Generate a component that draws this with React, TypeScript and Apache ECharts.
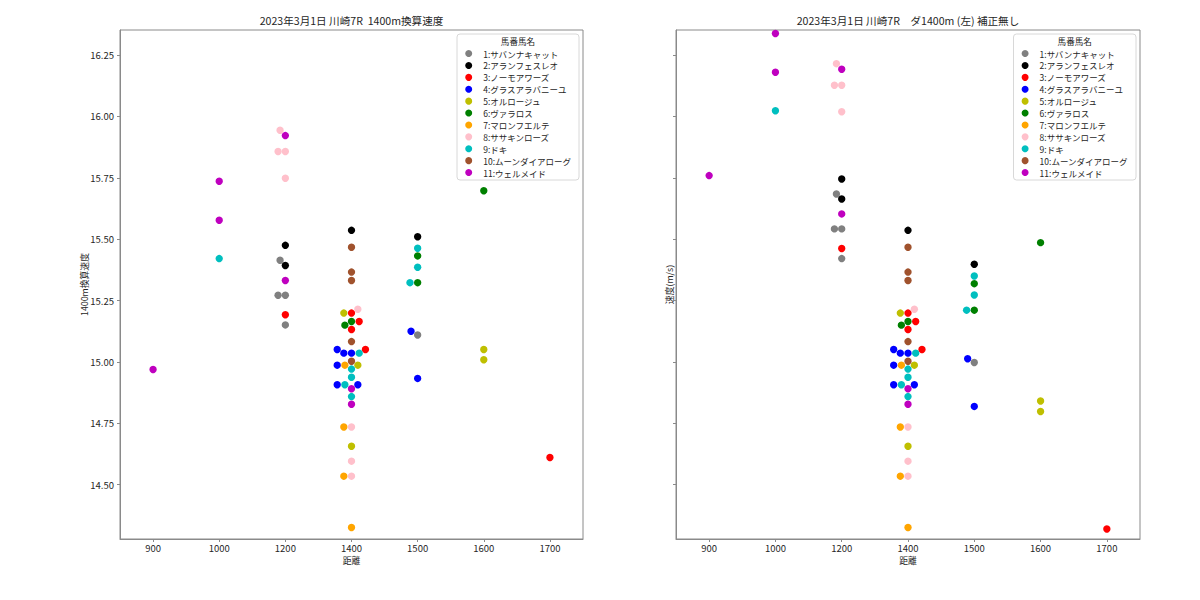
import { useEffect, useRef } from "react";
import * as echarts from "echarts";

const FONT = '"Noto Sans CJK JP", "Noto Sans", "DejaVu Sans", sans-serif';

const distances = [900, 1000, 1200, 1400, 1500, 1600, 1700];
const yTicks = [14.5, 14.75, 15.0, 15.25, 15.5, 15.75, 16.0, 16.25];

const horseNames = [
  "1:サバンナキャット",
  "2:アランフェスレオ",
  "3:ノーモアワーズ",
  "4:グラスアラバニーユ",
  "5:オルロージュ",
  "6:ヴァラロス",
  "7:マロンフエルテ",
  "8:ササキンローズ",
  "9:ドキ",
  "10:ムーンダイアローグ",
  "11:ウェルメイド",
];

const horseColors = [
  "#808080", "#000000", "#ff0000", "#0000ff", "#bfbf00", "#008000",
  "#ffa500", "#ffc0cb", "#00bfbf", "#a0522d", "#bf00bf",
];

// [distance, swarm offset (category units), 1400m-converted speed, raw speed]
const horse1 = [
  [1200, -0.08, 15.414, 15.684],
  [1200, -0.11, 15.272, 15.542],
  [1200, 0, 15.272, 15.542],
  [1200, 0, 15.151, 15.421],
  [1500, 0, 15.11, 14.998],
];
const horse2 = [
  [1200, 0, 15.475, 15.745],
  [1200, 0, 15.393, 15.664],
  [1400, 0, 15.536, 15.536],
  [1500, 0, 15.51, 15.398],
];
const horse3 = [
  [1200, 0, 15.192, 15.462],
  [1400, 0, 15.199, 15.199],
  [1400, 0.116, 15.165, 15.165],
  [1400, 0, 15.132, 15.132],
  [1400, 0.211, 15.051, 15.051],
  [1700, 0, 14.611, 14.32],
];
const horse4 = [
  [1400, -0.216, 15.051, 15.051],
  [1400, -0.116, 15.036, 15.036],
  [1400, 0, 15.036, 15.036],
  [1400, -0.216, 14.987, 14.987],
  [1400, -0.216, 14.907, 14.907],
  [1400, 0.096, 14.907, 14.907],
  [1500, -0.1, 15.125, 15.013],
  [1500, 0, 14.933, 14.819],
];
const horse5 = [
  [1400, -0.116, 15.199, 15.199],
  [1400, 0.096, 14.987, 14.987],
  [1400, 0, 14.657, 14.657],
  [1600, 0, 15.051, 14.841],
  [1600, 0, 15.009, 14.798],
];
const horse6 = [
  [1400, 0, 15.165, 15.165],
  [1400, -0.1, 15.15, 15.15],
  [1500, 0, 15.432, 15.319],
  [1500, 0, 15.323, 15.211],
  [1600, 0, 15.697, 15.486],
];
const horse7 = [
  [1400, -0.1, 14.987, 14.987],
  [1400, -0.116, 14.735, 14.735],
  [1400, -0.116, 14.535, 14.535],
  [1400, 0, 14.326, 14.326],
];
const horse8 = [
  [1200, -0.08, 15.944, 16.215],
  [1200, -0.11, 15.857, 16.127],
  [1200, 0, 15.857, 16.127],
  [1200, 0, 15.748, 16.019],
  [1400, 0.096, 15.215, 15.215],
  [1400, 0, 14.735, 14.735],
  [1400, 0, 14.596, 14.596],
  [1400, 0, 14.535, 14.535],
];
const horse9 = [
  [1000, 0, 15.421, 16.023],
  [1400, 0.116, 15.036, 15.036],
  [1400, 0, 14.971, 14.971],
  [1400, 0, 14.938, 14.938],
  [1400, -0.1, 14.907, 14.907],
  [1400, 0, 14.859, 14.859],
  [1500, 0, 15.463, 15.35],
  [1500, 0, 15.386, 15.273],
  [1500, -0.116, 15.323, 15.211],
];
const horse10 = [
  [1400, 0, 15.467, 15.467],
  [1400, 0, 15.366, 15.366],
  [1400, 0, 15.332, 15.332],
  [1400, 0, 15.083, 15.083],
  [1400, 0, 15.003, 15.003],
];
const horse11 = [
  [900, 0, 14.969, 15.759],
  [1000, 0, 15.736, 16.338],
  [1000, 0, 15.577, 16.18],
  [1200, 0, 15.922, 16.192],
  [1200, 0, 15.332, 15.603],
  [1400, 0, 14.891, 14.891],
  [1400, 0, 14.828, 14.828],
];

const horseData = [
  horse1, horse2, horse3, horse4, horse5, horse6,
  horse7, horse8, horse9, horse10, horse11,
];

const titles = [
  "2023年3月1日 川崎7R  1400m換算速度",
  "2023年3月1日 川崎7R　ダ1400m (左) 補正無し",
];
const yNames = ["1400m換算速度", "速度(m/s)"];
const xName = "距離";
const legendTitle = "馬番馬名";

const AXIS_COLOR = "#8a8a8a";
const TEXT_COLOR = "#262626";

export default function App() {
  const ref = useRef<HTMLDivElement>(null);

  useEffect(() => {
    if (!ref.current) return;
    const chart = echarts.init(ref.current, null, { renderer: "svg" });

    const grids = [
      { left: 120, top: 30, width: 463, height: 509 },
      { left: 676, top: 30, width: 464, height: 509 },
    ];
    const centers = grids.map((g) => g.left + g.width / 2);

    const xAxes = grids.map((_, g) => ({
      type: "value",
      gridIndex: g,
      min: -0.5,
      max: 6.5,
      splitLine: { show: false },
      axisLine: {
        show: true,
        onZero: false,
        lineStyle: { color: AXIS_COLOR, width: 1 },
      },
      axisTick: {
        show: true,
        length: 3,
        lineStyle: { color: AXIS_COLOR },
        customValues: distances.map((_, i) => i),
      },
      axisLabel: {
        show: true,
        margin: 4,
        fontSize: 9.5,
        color: TEXT_COLOR,
        fontFamily: FONT,
        customValues: distances.map((_, i) => i),
        formatter: (v: number) => String(distances[Math.round(v)] ?? ""),
      },
    }));

    const yAxes = grids.map((_, g) => ({
      type: "value",
      gridIndex: g,
      min: 14.279,
      max: 16.352,
      splitLine: { show: false },
      axisLine: {
        show: true,
        onZero: false,
        lineStyle: { color: AXIS_COLOR, width: 1 },
      },
      axisTick: {
        show: true,
        length: 3,
        lineStyle: { color: AXIS_COLOR },
        customValues: yTicks,
      },
      axisLabel: {
        show: g === 0,
        margin: 6,
        fontSize: 9.5,
        color: TEXT_COLOR,
        fontFamily: FONT,
        customValues: yTicks,
        formatter: (v: number) => v.toFixed(2),
      },
    }));

    const series: any[] = [];
    horseData.forEach((pts, i) => {
      [0, 1].forEach((g) => {
        series.push({
          type: "scatter",
          name: horseNames[i],
          xAxisIndex: g,
          yAxisIndex: g,
          symbol: "circle",
          symbolSize: 7.4,
          silent: true,
          itemStyle: { color: horseColors[i], opacity: 1 },
          emphasis: { disabled: true },
          data: pts.map((p) => [
            distances.indexOf(p[0]) + p[1],
            g === 0 ? p[2] : p[3],
          ]),
        });
      });
    });

    const legendBoxes = [
      { x: 457, y: 34, w: 122, h: 146, iconCenter: 468.7 },
      { x: 1013.5, y: 34, w: 122.5, h: 146, iconCenter: 1025.1 },
    ];
    const ICON = 7;

    const legends = legendBoxes.map((b) => ({
      orient: "vertical",
      left: b.iconCenter - ICON / 2,
      top: 49.3,
      padding: 0,
      itemWidth: ICON,
      itemHeight: ICON,
      itemGap: 3.4,
      icon: "circle",
      selectedMode: false,
      data: horseNames,
      z: 10,
      textStyle: {
        fontSize: 8.5,
        color: TEXT_COLOR,
        fontFamily: FONT,
        padding: [0, 0, 0, 6],
      },
    }));

    const graphics: any[] = [];
    legendBoxes.forEach((b) => {
      graphics.push({
        type: "rect",
        z: 5,
        silent: true,
        shape: { x: b.x, y: b.y, width: b.w, height: b.h, r: 3 },
        style: { fill: "rgba(255,255,255,0.8)", stroke: "#d8d8d8", lineWidth: 1 },
      });
      graphics.push({
        type: "text",
        z: 11,
        silent: true,
        x: b.x + b.w / 2,
        y: 41,
        style: {
          text: legendTitle,
          fontSize: 8.6,
          fontFamily: FONT,
          fill: TEXT_COLOR,
          align: "center",
          verticalAlign: "middle",
        },
      });
    });
    centers.forEach((cx, g) => {
      graphics.push({
        type: "text",
        silent: true,
        x: cx,
        y: 20,
        style: {
          text: titles[g],
          fontSize: 10.6,
          fontFamily: FONT,
          fill: TEXT_COLOR,
          align: "center",
          verticalAlign: "middle",
        },
      });
      graphics.push({
        type: "text",
        silent: true,
        x: cx,
        y: 560,
        style: {
          text: xName,
          fontSize: 8.8,
          fontFamily: FONT,
          fill: TEXT_COLOR,
          align: "center",
          verticalAlign: "middle",
        },
      });
    });
    [84, 669].forEach((x, g) => {
      graphics.push({
        type: "text",
        silent: true,
        x,
        y: 284.5,
        rotation: Math.PI / 2,
        style: {
          text: yNames[g],
          fontSize: 8.8,
          fontFamily: FONT,
          fill: TEXT_COLOR,
          align: "center",
          verticalAlign: "middle",
        },
      });
    });

    chart.setOption({
      animation: false,
      backgroundColor: "#ffffff",
      textStyle: { fontFamily: FONT },
      grid: grids.map((g) => ({
        ...g,
        show: true,
        borderColor: AXIS_COLOR,
        borderWidth: 1,
        backgroundColor: "transparent",
        containLabel: false,
      })),
      xAxis: xAxes,
      yAxis: yAxes,
      legend: legends,
      series,
      graphic: { elements: graphics },
    });

    return () => {
      chart.dispose();
    };
  }, []);

  return (
    <div
      ref={ref}
      style={{ position: "fixed", left: 0, top: 0, width: 1200, height: 600 }}
    />
  );
}
